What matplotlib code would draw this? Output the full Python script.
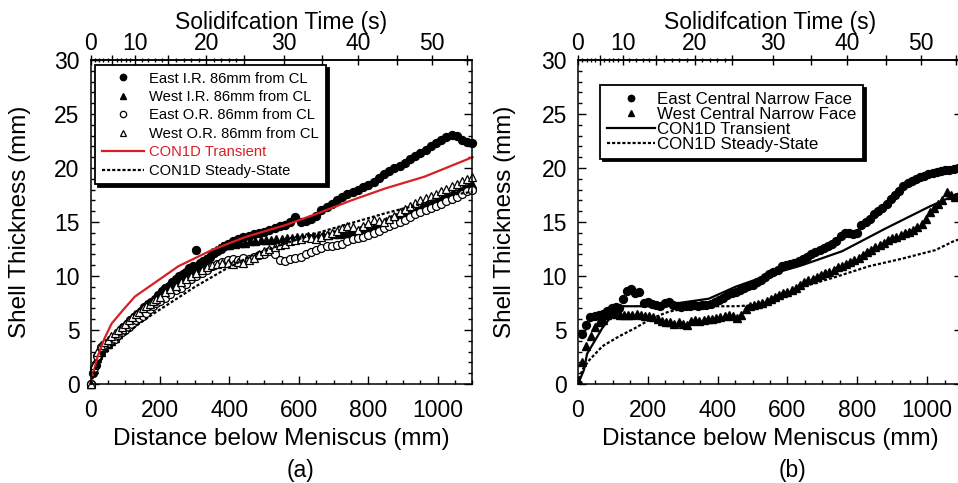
import numpy as np
import matplotlib
matplotlib.use("Agg")
import matplotlib.pyplot as plt
from matplotlib.ticker import MultipleLocator

plt.rcParams['font.family'] = ['Liberation Sans', 'DejaVu Sans']

# ---------------- data ----------------
# top axis calibration: solidification time (s) vs distance (mm)
time_s = [0, 5, 10, 15, 20, 25, 30, 35, 40, 45, 50, 55, 60]
time_mm = [0, 62, 128, 224, 334, 442, 558, 668, 770, 882, 982, 1084, 1186]
time_major = [0, 5, 10, 15, 20, 25, 30, 35, 40, 45, 50, 55]
time_labels = ['0', '', '10', '', '20', '', '30', '', '40', '', '50', '']
time_minor = [1, 2, 3, 4, 6, 7, 8, 9, 11, 12, 13, 14, 16, 17, 18, 19, 21, 22, 23, 24]

# panel (a)
ea_x = [0, 8, 15, 22, 30, 38, 45, 52, 60, 68,
        75, 85, 95, 105, 115, 125, 135, 145, 155, 165,
        175, 185, 195, 205, 215, 225, 235, 245, 255, 265,
        275, 285, 295, 305, 315, 325, 335, 345, 355, 365,
        375, 385, 395, 410, 425, 440, 455, 470, 485, 500,
        515, 530, 545, 560, 575, 590, 605, 620, 635, 650,
        665, 680, 695, 710, 725, 740, 755, 770, 785, 800,
        815, 830, 845, 860, 875, 890, 905, 920, 935, 950,
        965, 980, 995, 1010, 1025, 1040, 1055, 1070, 1085, 1100]
ea_y = [0, 1.0, 1.8, 2.5, 3.0, 3.4, 3.6, 3.8, 4.0, 4.2,
        4.4, 4.9, 5.3, 5.6, 5.9, 6.2, 6.5, 6.8, 7.1, 7.4,
        7.6, 7.9, 8.2, 8.6, 8.9, 9.1, 9.4, 9.7, 10.0, 10.2,
        10.4, 10.7, 10.9, 12.4, 11.2, 11.4, 11.6, 11.8, 12.1, 12.3,
        12.5, 12.8, 13.0, 13.2, 13.4, 13.6, 13.7, 13.9, 14.0, 14.1,
        14.3, 14.4, 14.6, 14.7, 15.0, 15.5, 15.0, 15.1, 15.3, 15.6,
        16.1, 16.4, 16.7, 17.0, 17.3, 17.6, 17.8, 18.0, 18.2, 18.4,
        18.7, 19.1, 19.4, 19.7, 20.0, 20.2, 20.5, 20.8, 21.1, 21.4,
        21.7, 22.0, 22.3, 22.6, 22.9, 23.1, 23.0, 22.6, 22.4, 22.3]

wa_x = [0, 10, 20, 30, 40, 50, 60, 70, 80, 90,
        100, 110, 120, 130, 140, 150, 160, 170, 180, 190,
        200, 210, 220, 230, 240, 250, 260, 270, 280, 290,
        300, 310, 320, 330, 340, 350, 360, 370, 380, 390,
        400, 415, 430, 445, 460, 475, 490, 505, 520, 535,
        550, 565, 580, 595, 610, 625, 640, 655, 670, 685,
        700, 715, 730, 745, 760, 775, 790, 805, 820, 835,
        850, 865, 880, 895, 910, 925, 940, 955, 970, 985,
        1000, 1015, 1030, 1045, 1060, 1075, 1090, 1100]
wa_y = [0, 1.4, 2.4, 3.0, 3.4, 3.7, 4.0, 4.3, 4.6, 5.0,
        5.4, 5.8, 6.1, 6.4, 6.7, 7.0, 7.2, 7.5, 7.8, 8.0,
        8.3, 8.6, 8.9, 9.1, 9.3, 9.5, 9.7, 9.9, 10.1, 10.4,
        10.7, 11.0, 11.3, 11.6, 11.9, 12.2, 12.4, 12.6, 12.8, 12.9,
        12.9, 13.0, 13.1, 13.1, 13.2, 13.2, 13.3, 13.3, 13.3, 13.4,
        13.4, 13.5, 13.5, 13.6, 13.6, 13.7, 13.7, 13.7, 13.8, 13.8,
        13.9, 13.9, 14.0, 14.1, 14.2, 14.3, 14.4, 14.5, 14.7, 14.9,
        15.1, 15.3, 15.5, 15.7, 15.9, 16.1, 16.3, 16.5, 16.8, 17.0,
        17.2, 17.4, 17.6, 17.8, 18.0, 18.2, 18.4, 18.5]

or_x = [0, 10, 20, 30, 40, 50, 60, 70, 80, 90,
        100, 110, 120, 130, 140, 150, 160, 170, 180, 190,
        200, 215, 230, 245, 260, 275, 290, 305, 320, 335,
        350, 365, 380, 395, 410, 425, 440, 455, 470, 485,
        500, 515, 530, 545, 560, 575, 590, 605, 620, 635,
        650, 665, 680, 695, 710, 725, 740, 755, 770, 785,
        800, 815, 830, 845, 860, 875, 890, 905, 920, 935,
        950, 965, 980, 995, 1010, 1025, 1040, 1055, 1070, 1085,
        1100]
eo_y = [0, 1.5, 2.6, 3.4, 3.6, 3.8, 4.0, 4.2, 4.5, 4.8,
        5.0, 5.3, 5.6, 5.9, 6.1, 6.3, 6.6, 6.9, 7.2, 7.5,
        7.7, 8.0, 8.3, 8.7, 8.9, 9.3, 9.7, 10.0, 10.3, 10.6,
        10.9, 11.1, 11.3, 11.5, 11.6, 11.5, 11.7, 11.6, 11.8, 11.9,
        12.0, 12.3, 12.0, 11.5, 11.4, 11.6, 11.7, 11.8, 12.0, 12.2,
        12.4, 12.6, 12.8, 12.8, 12.9, 13.0, 13.2, 13.4, 13.5, 13.6,
        13.8, 14.0, 14.2, 14.4, 14.6, 14.8, 15.0, 15.2, 15.5, 15.7,
        15.9, 16.1, 16.3, 16.5, 16.7, 16.9, 17.1, 17.3, 17.6, 17.9,
        18.0]
wo_y = [0, 1.8, 3.0, 3.6, 3.9, 4.1, 4.4, 4.7, 5.0, 5.3,
        5.6, 5.9, 6.2, 6.5, 6.7, 7.0, 7.2, 7.4, 7.7, 7.9,
        8.1, 8.5, 8.8, 9.1, 9.4, 9.7, 10.0, 10.3, 10.6, 10.8,
        11.0, 11.1, 11.2, 11.2, 11.1, 11.3, 11.2, 11.5, 11.7, 12.0,
        12.3, 12.5, 12.7, 12.9, 13.0, 13.2, 13.3, 13.4, 13.6, 13.5,
        13.4, 13.6, 13.8, 14.0, 14.2, 14.4, 14.6, 14.5, 14.3, 14.6,
        14.9, 15.2, 15.1, 15.0, 15.3, 15.6, 15.9, 16.2, 16.5, 16.8,
        17.0, 17.2, 17.4, 17.6, 17.9, 18.1, 18.3, 18.5, 18.8, 19.0,
        19.2]

tra_x = [0, 20, 40, 61, 95, 128, 195, 253, 349, 445, 560, 655, 751, 848, 962, 1100]
tra_y = [0, 2.5, 4.2, 5.6, 6.9, 8.1, 9.6, 10.9, 12.4, 13.6, 14.7, 15.8, 17.0, 18.1, 19.2, 21.0]
ssa_x = [0, 20, 42, 80, 128, 176, 234, 301, 387, 464, 560, 655, 751, 848, 943, 1039, 1100]
ssa_y = [0, 1.8, 2.8, 4.1, 5.3, 6.4, 7.6, 9.0, 10.6, 11.9, 13.0, 14.0, 14.9, 15.8, 16.6, 17.5, 17.8]

# panel (b)
ec_x = [0, 12, 22, 35, 48, 60, 72, 84, 96, 108,
        118, 128, 140, 152, 164, 176, 188, 200, 212, 224,
        236, 248, 260, 272, 284, 296, 308, 320, 332, 344,
        356, 368, 380, 392, 404, 416, 428, 440, 452, 464,
        476, 488, 500, 512, 524, 536, 548, 560, 572, 584,
        596, 608, 620, 632, 644, 656, 668, 680, 692, 704,
        716, 728, 740, 752, 764, 776, 788, 800, 812, 824,
        836, 848, 860, 872, 884, 896, 908, 920, 932, 944,
        956, 968, 980, 992, 1004, 1016, 1028, 1040, 1052, 1064,
        1076, 1088, 1100]
ec_y = [0, 4.6, 5.5, 6.2, 6.3, 6.4, 6.5, 6.8, 7.0, 7.1,
        7.0, 7.9, 8.6, 8.8, 8.4, 8.5, 7.5, 7.6, 7.4, 7.3,
        7.2, 7.5, 7.6, 7.3, 7.2, 7.1, 7.2, 7.2, 7.3, 7.2,
        7.3, 7.3, 7.4, 7.6, 7.8, 8.0, 8.2, 8.4, 8.5, 8.7,
        8.9, 9.1, 9.2, 9.4, 9.6, 9.9, 10.2, 10.4, 10.6, 10.9,
        11.0, 11.1, 11.2, 11.4, 11.6, 11.8, 12.0, 12.2, 12.4, 12.6,
        12.8, 13.0, 13.2, 13.7, 14.0, 14.0, 13.9, 14.0, 14.7, 15.0,
        15.3, 15.7, 16.0, 16.3, 16.7, 17.1, 17.5, 17.9, 18.3, 18.6,
        18.8, 19.0, 19.2, 19.3, 19.4, 19.5, 19.6, 19.7, 19.8, 19.8,
        19.9, 20.0, 20.0]

wc_x = [0, 12, 24, 36, 48, 60, 72, 84, 96, 108,
        120, 132, 144, 156, 168, 180, 192, 204, 216, 228,
        240, 252, 264, 276, 288, 300, 312, 324, 336, 348,
        360, 372, 384, 396, 408, 420, 432, 444, 456, 468,
        480, 492, 504, 516, 528, 540, 552, 564, 576, 588,
        600, 612, 624, 636, 648, 660, 672, 684, 696, 708,
        720, 732, 744, 756, 768, 780, 792, 804, 816, 828,
        840, 852, 864, 876, 888, 900, 912, 924, 936, 948,
        960, 972, 984, 996, 1008, 1020, 1032, 1044, 1056, 1068,
        1080, 1092]
wc_y = [0, 2.0, 3.5, 4.4, 5.3, 5.7, 5.9, 6.4, 6.6, 6.5,
        6.4, 6.4, 6.4, 6.4, 6.5, 6.4, 6.3, 6.3, 6.2, 6.0,
        5.8, 5.7, 5.7, 5.6, 5.7, 5.6, 5.5, 5.8, 5.9, 5.8,
        5.9, 6.0, 6.0, 6.1, 6.2, 6.3, 6.4, 6.3, 6.1, 6.4,
        6.9, 7.2, 7.3, 7.4, 7.5, 7.7, 7.9, 8.1, 8.2, 8.4,
        8.5, 8.7, 8.9, 9.2, 9.4, 9.6, 9.7, 9.9, 10.1, 10.3,
        10.4, 10.6, 10.8, 10.9, 11.1, 11.3, 11.5, 11.7, 11.9, 12.2,
        12.4, 12.7, 12.9, 13.1, 13.3, 13.5, 13.6, 13.8, 14.0, 14.1,
        14.3, 14.5, 14.8, 15.3, 15.9, 16.3, 16.7, 17.0, 17.8, 17.5,
        17.3, 17.4]

trb_x = [0, 17, 26, 50, 70, 94, 117, 155, 203, 289, 375, 451, 547, 642, 757, 881, 1005, 1081, 1100]
trb_y = [0, 1.3, 2.8, 4.1, 5.2, 6.2, 7.2, 7.2, 7.2, 7.5, 7.9, 9.0, 10.1, 11.0, 12.3, 14.4, 16.4, 17.5, 17.8]
ssb_x = [0, 12, 32, 70, 117, 165, 213, 260, 308, 375, 451, 509, 566, 642, 737, 833, 928, 1024, 1081, 1100]
ssb_y = [0, 1.3, 2.2, 3.5, 4.4, 5.2, 6.1, 6.7, 7.0, 7.2, 7.2, 7.3, 8.1, 9.0, 9.9, 10.9, 11.6, 12.4, 13.3, 13.4]

labels_a = ['East I.R. 86mm from CL', 'West I.R. 86mm from CL', 'East O.R. 86mm from CL',
            'West O.R. 86mm from CL', 'CON1D Transient', 'CON1D Steady-State']
labels_b = ['East Central Narrow Face', 'West Central Narrow Face', 'CON1D Transient',
            'CON1D Steady-State']

RED = '#d91f26'
DASH = (0, (1.4, 0.9))

W, H = 958, 483
fig = plt.figure(figsize=(W / 100, H / 100), dpi=100)


def d2t(d):
    return np.interp(d, time_mm, time_s)


def t2d(t):
    return np.interp(t, time_s, time_mm)


def style_axes(ax, ylab_x):
    ax.set_xlim(0, 1100)
    ax.set_ylim(0, 30)
    ax.xaxis.set_major_locator(MultipleLocator(200))
    ax.xaxis.set_minor_locator(MultipleLocator(50))
    ax.yaxis.set_major_locator(MultipleLocator(5))
    ax.yaxis.set_minor_locator(MultipleLocator(1))
    ax.tick_params(which='both', direction='in', top=False, right=True, width=1.0)
    ax.tick_params(which='major', length=6)
    ax.tick_params(which='minor', length=3)
    ax.tick_params(axis='x', labelsize=16.5, pad=11)
    ax.tick_params(axis='y', labelsize=16.5, pad=8)
    for s in ax.spines.values():
        s.set_linewidth(1.1)
    ax.set_xlabel('Distance below Meniscus (mm)', fontsize=17.5)
    ax.set_ylabel('Shell Thickness (mm)', fontsize=17.5)
    ax.xaxis.set_label_coords(0.5, -0.135)
    ax.yaxis.set_label_coords(ylab_x, 0.5)
    sec = ax.secondary_xaxis('top', functions=(d2t, t2d))
    sec.set_xticks(time_major)
    sec.set_xticklabels(time_labels)
    sec.set_xticks(time_minor, minor=True)
    sec.tick_params(which='major', direction='inout', length=7, width=1.0, labelsize=16.5, pad=0)
    sec.tick_params(which='minor', direction='inout', length=3, width=1.0)
    sec.spines['top'].set_linewidth(1.1)
    sec.set_xlabel('Solidifcation Time (s)', fontsize=16.5, labelpad=2)
    return sec


ax1 = fig.add_axes([90.5 / W, 99 / H, 382 / W, 324 / H])
ax2 = fig.add_axes([578 / W, 99 / H, 384 / W, 324 / H])
style_axes(ax1, -0.157)
style_axes(ax2, -0.161)

ms = 5.7
h1, = ax1.plot(ea_x, ea_y, 'o', color='k', ms=ms, ls='none')
h2, = ax1.plot(wa_x, wa_y, '^', color='k', ms=ms, ls='none')
h3, = ax1.plot(or_x, eo_y, 'o', mfc='white', mec='k', mew=0.9, ms=ms, ls='none')
h4, = ax1.plot(or_x, wo_y, '^', mfc='white', mec='k', mew=0.9, ms=ms, ls='none')
h5, = ax1.plot(tra_x, tra_y, '-', color=RED, lw=1.6)
h6, = ax1.plot(ssa_x, ssa_y, color='k', lw=1.6, ls=DASH)
for h in (h1, h2, h3, h4, h5, h6):
    h.set_clip_on(False)

leg1 = ax1.legend([h1, h2, h3, h4, h5, h6], labels_a, loc='upper left',
                  bbox_to_anchor=(95 / W, 1 - 65 / H), bbox_transform=fig.transFigure,
                  borderaxespad=0, fancybox=False, shadow={'color': 'black', 'alpha': 1},
                  fontsize=10.6, handlelength=2.9, handletextpad=0.35,
                  labelspacing=0.3, borderpad=0.45, numpoints=1, markerscale=0.8)
leg1.get_frame().set_edgecolor('black')
leg1.get_frame().set_linewidth(1.3)
leg1.get_texts()[4].set_color(RED)

g1, = ax2.plot(ec_x, ec_y, 'o', color='k', ms=ms, ls='none')
g2, = ax2.plot(wc_x, wc_y, '^', color='k', ms=ms, ls='none')
g3, = ax2.plot(trb_x, trb_y, '-', color='k', lw=1.6)
g4, = ax2.plot(ssb_x, ssb_y, color='k', lw=1.6, ls=DASH)
leg2 = ax2.legend([g1, g2, g3, g4], labels_b, loc='upper left',
                  bbox_to_anchor=(600 / W, 1 - 85 / H), bbox_transform=fig.transFigure,
                  borderaxespad=0, fancybox=False, shadow={'color': 'black', 'alpha': 1},
                  fontsize=12.2, handlelength=2.85, handletextpad=0.12,
                  labelspacing=0.0, borderpad=0.4, numpoints=1, markerscale=0.8)
leg2.get_frame().set_edgecolor('black')
leg2.get_frame().set_linewidth(1.3)

fig.text(301 / W, 1 - 471 / H, '(a)', ha='center', va='center', fontsize=16.5)
fig.text(792 / W, 1 - 471 / H, '(b)', ha='center', va='center', fontsize=16.5)

fig.savefig('out.png', dpi=100)
